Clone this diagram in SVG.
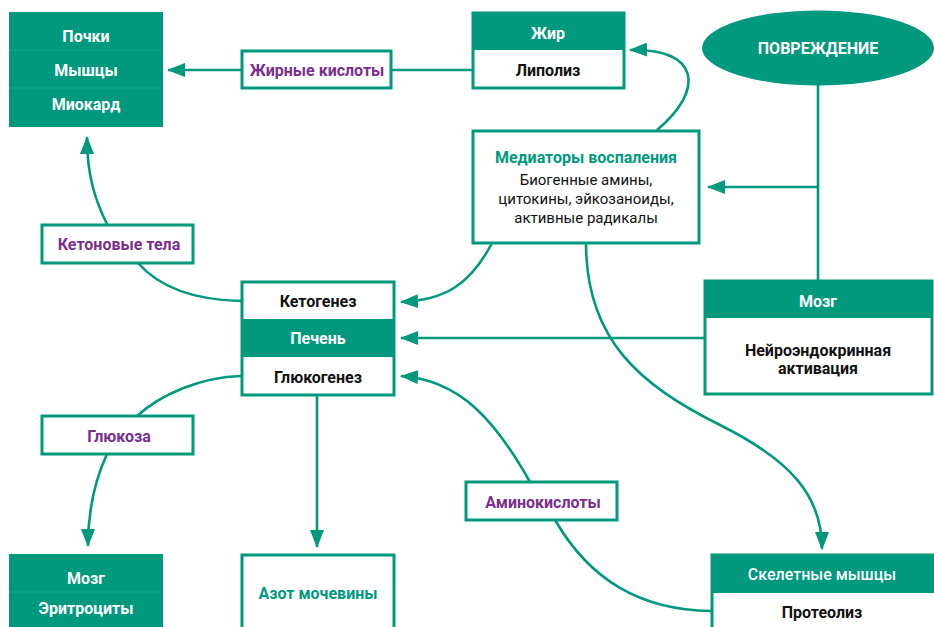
<svg xmlns="http://www.w3.org/2000/svg" width="934" height="627" viewBox="0 0 934 627">
<defs>
<marker id="ah" markerUnits="userSpaceOnUse" markerWidth="18" markerHeight="14" refX="17" refY="7" orient="auto" viewBox="0 0 18 14">
<path d="M0,0 L18,7 L0,14 z" fill="#00997D"/>
</marker>
<style>
.fill{fill:#00997D;}
.box{fill:#fff;stroke:#00997D;stroke-width:3;}
.hdr{fill:#00997D;}
.sep{stroke:#ffffff;stroke-opacity:0.08;stroke-width:1;}
.con{fill:none;stroke:#00997D;stroke-width:2.6;}
text{font-family:"Roboto","Noto Sans",sans-serif;text-anchor:middle;dominant-baseline:central;}
.w{fill:#fff;font-weight:700;font-size:16px;}
.b{fill:#111;font-weight:700;font-size:16px;}
.p{fill:#7A2E8E;font-weight:700;font-size:16px;}
.t{fill:#00997D;font-weight:700;font-size:16px;}
.n{fill:#111;font-weight:400;font-size:15px;}
</style>
</defs>

<g id="connectors">
<path class="con" d="M241,70 L168,70" marker-end="url(#ah)"/>
<path class="con" d="M473,70 L391,70"/>
<path class="con" d="M657,130 C705,90 700,48 630,50" marker-end="url(#ah)"/>
<path class="con" d="M818,85 L818,280"/>
<path class="con" d="M818,187 L708,187" marker-end="url(#ah)"/>
<path class="con" d="M704,338 L401,338" marker-end="url(#ah)"/>
<path class="con" d="M492,243 C470,285 445,300 401,302" marker-end="url(#ah)"/>
<path class="con" d="M586,243 C586,340 640,385 720,425 C790,460 822,495 822,549" marker-end="url(#ah)"/>
<path class="con" d="M241,301 C195,300 160,288 138,263"/>
<path class="con" d="M107,224 C95,200 87,175 87,137" marker-end="url(#ah)"/>
<path class="con" d="M241,376 C200,377 160,395 137,416"/>
<path class="con" d="M107,454 C95,480 88,510 88,546" marker-end="url(#ah)"/>
<path class="con" d="M317,395 L317,547" marker-end="url(#ah)"/>
<path class="con" d="M530,482 C495,420 460,380 401,376" marker-end="url(#ah)"/>
<path class="con" d="M555,520 C590,580 640,610 711,611"/>
</g>

<g id="pochki">
<rect class="fill" x="9" y="12" width="154" height="115"/>
<line class="sep" x1="9" y1="50" x2="163" y2="50"/>
<line class="sep" x1="9" y1="88" x2="163" y2="88"/>
<text class="w" x="86" y="36">Почки</text>
<text class="w" x="86" y="70">Мышцы</text>
<text class="w" x="86" y="104">Миокард</text>
</g>

<g id="fatty">
<rect class="box" x="242" y="51" width="149" height="37"/>
<text class="p" x="317" y="70">Жирные кислоты</text>
</g>

<g id="fat">
<rect class="box" x="473" y="13" width="151" height="75"/>
<rect class="hdr" x="473" y="13" width="151" height="37"/>
<text class="w" x="548" y="33">Жир</text>
<text class="b" x="548" y="70">Липолиз</text>
</g>

<g id="injury">
<ellipse class="fill" cx="818" cy="48" rx="116" ry="37.5"/>
<text class="w" x="818" y="48">ПОВРЕЖДЕНИЕ</text>
</g>

<g id="mediators">
<rect class="box" x="473" y="131" width="226" height="112"/>
<text class="t" x="586" y="157">Медиаторы воспаления</text>
<text class="n" x="586" y="180">Биогенные амины,</text>
<text class="n" x="586" y="199">цитокины, эйкозаноиды,</text>
<text class="n" x="586" y="218">активные радикалы</text>
</g>

<g id="ketone">
<rect class="box" x="42" y="225" width="151" height="38"/>
<text class="p" x="119" y="244">Кетоновые тела</text>
</g>

<g id="liver">
<rect class="box" x="242" y="282" width="152" height="113"/>
<rect class="hdr" x="242" y="319" width="152" height="38"/>
<text class="b" x="318" y="301">Кетогенез</text>
<text class="w" x="318" y="338">Печень</text>
<text class="b" x="318" y="377">Глюкогенез</text>
</g>

<g id="brain">
<rect class="box" x="705" y="281" width="227" height="113"/>
<rect class="hdr" x="705" y="281" width="227" height="37"/>
<text class="w" x="818" y="301">Мозг</text>
<text class="b" x="818" y="350">Нейроэндокринная</text>
<text class="b" x="818" y="368">активация</text>
</g>

<g id="glucose">
<rect class="box" x="42" y="416" width="151" height="38"/>
<text class="p" x="119" y="436">Глюкоза</text>
</g>

<g id="amino">
<rect class="box" x="466" y="482" width="151" height="38"/>
<text class="p" x="543" y="502">Аминокислоты</text>
</g>

<g id="brain2">
<rect class="fill" x="9" y="554" width="154" height="80"/>
<line class="sep" x1="9" y1="592" x2="163" y2="592"/>
<text class="w" x="86" y="578">Мозг</text>
<text class="w" x="86" y="608">Эритроциты</text>
</g>

<g id="urea">
<rect class="box" x="242" y="555" width="152" height="80"/>
<text class="t" x="318" y="593">Азот мочевины</text>
</g>

<g id="muscle">
<rect class="box" x="712" y="555" width="230" height="80"/>
<rect class="hdr" x="711" y="554" width="231" height="39"/>
<text class="w" x="822" y="574" style="font-weight:500">Скелетные мышцы</text>
<text class="b" x="822" y="612">Протеолиз</text>
</g>
</svg>
